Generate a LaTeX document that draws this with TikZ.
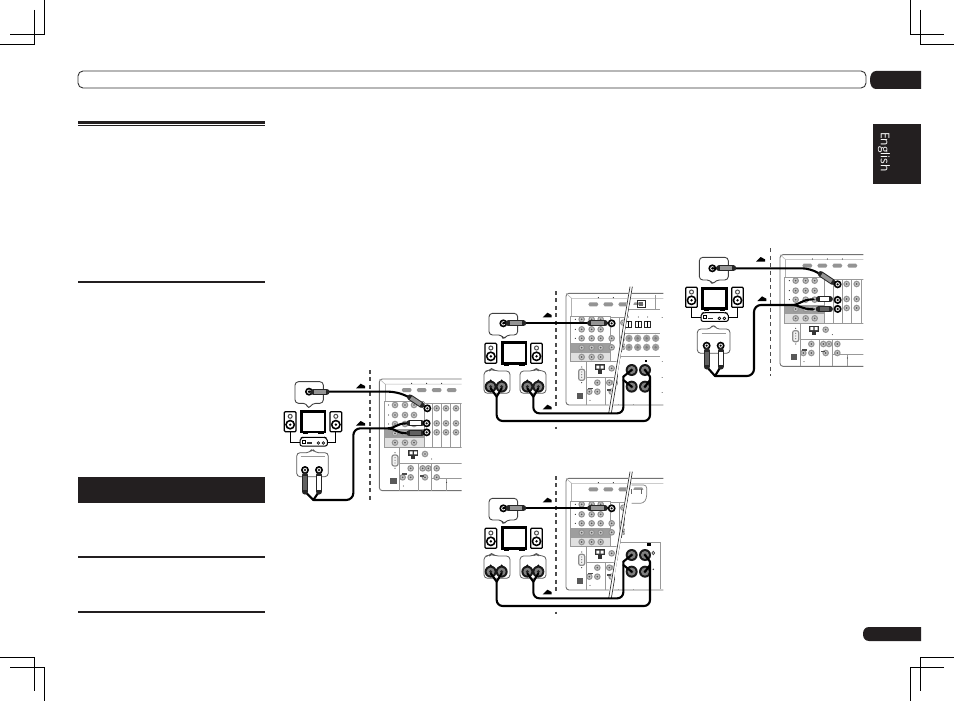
\documentclass[tikz,border=0pt]{standalone}
\usepackage{fontspec}
\setmainfont{Open Sans}
\usetikzlibrary{calc}
\definecolor{ink}{RGB}{35,31,32}
\tikzset{
  crop/.style={black,line width=0.8pt},
  rule/.style={ink,line width=1.1pt},
  cable/.style={black,line width=2.1pt,rounded corners=5pt,line cap=round},
  wire/.style={black,line width=0.8pt},
  bubble/.style={draw=black!75,line width=0.9pt,fill=white,rounded corners=3.5pt,line join=round},
  bubbleB/.style={draw=black!65,line width=0.8pt,fill=white,rounded corners=3.5pt,line join=round},
  pline/.style={black!40,line width=0.6pt},
  pouter/.style={black!55,line width=0.9pt,rounded corners=3pt},
  vdash/.style={black!70,line width=1.5pt,dash pattern=on 4pt off 3.4pt},
  dzone/.style={x=0.33333pt,y=-0.33333pt},
}
\newcommand{\pjack}[1]{\fill[black!42] (#1) circle (10); \fill[black!22] (#1) circle (6); \fill[black!65] (#1) circle (2.8);}
\newcommand{\gjack}[1]{\fill[black!38] (#1) circle (11); \fill[black!52] (#1) circle (4);}
\newcommand{\djack}[1]{\fill[black] (#1) circle (12); \fill[black!10] (#1) circle (6.5); \fill[black] (#1) circle (3.4);}
\newcommand{\bjack}[1]{\fill[black!90] (#1) circle (18); \fill[black!50] (#1) circle (12); \fill[black!85] (#1) circle (5);}
\newcommand{\plugseg}[3]{%
  \draw[black!85,line width=5.8pt,line cap=round] (#1)--(#2);
  \draw[#3,line width=3.8pt,line cap=butt] ($(#1)!.08!(#2)$)--($(#1)!.92!(#2)$);}
\newcommand{\amark}[1]{\fill[black] ($(#1)$) -- ++(14,-14) -- ++(13,7) -- ++(0,7) -- cycle;}
\newcommand{\spk}[1]{%
  \begin{scope}[shift={(#1)}]
  \draw[black,line width=1.2pt,fill=white,rounded corners=1pt] (0,0) rectangle (35,60);
  \draw[black!70,line width=1pt] (17.5,14) circle (6);
  \fill[black] (17.5,39) circle (15); \fill[white] (17.5,39) circle (9.5); \fill[black] (17.5,39) circle (4);
  \end{scope}}
\newcommand{\tvset}[4]{%
  \draw[black,line width=2.5pt,fill=white] (#1,#2) rectangle (#3,#4);
  \draw[black,line width=2.6pt] ($(#1,#4)+(4,3)$) -- ++(16,0);
  \draw[black,line width=2.6pt] ($(#3,#4)+(-20,3)$) -- ++(16,0);}
\newcommand{\ampbox}[1]{%
  \begin{scope}[shift={(#1)}]
  \draw[black,line width=1pt,fill=white,rounded corners=2pt] (0,3) -- (8,0) -- (74,0) -- (82,3) -- (82,26) -- (0,26) -- cycle;
  \draw[black,line width=0.9pt] (7,9) rectangle (16,17);
  \fill[black!80] (20,15) rectangle (36,19);
  \draw[black,line width=0.7pt] (55,17) circle (4) (70,17) circle (4);
  \end{scope}}
\newcommand{\panelbase}{%
  \draw[pouter] (620,57) -- (328,57) -- (328,392) -- (620,392);
  \draw[black!30,line width=0.5pt] (328,57) -- (345,72) -- (620,72);
  \draw[black!30,line width=0.5pt] (345,72) -- (345,125);
  \foreach \xx in {395,440,485,530}{\fill[black!42] (\xx,90) -- ++(4,-6) -- ++(22,0) -- ++(4,6) -- ++(-4,6) -- ++(-22,0) -- cycle;}
  \foreach \xx in {425,470,515}{\fill[black] (\xx,70) circle (1.6);}
  \foreach \yy in {135,165,192}{\fill[black] (356,\yy) circle (1.6);}
  \fill[black!38] (342,207) rectangle (462,235);
  \fill[black!12] (342,235) rectangle (462,262);
  \draw[pline] (342,125) -- (342,262) -- (620,262);
  \draw[pline] (342,125) -- (462,125);
  \draw[pline] (462,125) -- (462,262);
  \draw[pline] (462,130) -- (620,130);
  \foreach \xx in {487,515,542,572}{\draw[pline] (\xx,130) -- (\xx,262);}
  \foreach \xx in {375,405,432}{\foreach \yy in {135,165,192,220,248}{\pjack{\xx,\yy}}}
  \foreach \xx in {500,528,558}{\foreach \yy in {145,190,217}{\pjack{\xx,\yy}}}
  \draw[pline] (388,262) -- (388,392);
  \draw[pline] (388,310) -- (620,310);
  \draw[pline] (445,310) -- (445,392);
  \draw[pline] (485,310) -- (485,392);
  \draw[pline] (530,355) -- (530,392) (485,355) -- (620,355);
  % serial connector
  \draw[black!45,line width=1.2pt,fill=black!6,rounded corners=2pt] (366,285) rectangle (384,318);
  \foreach \yy in {293,301,309}{\fill[black!50] (375,\yy) circle (2);}
  \fill[black!70] (375,278) circle (1.8) (375,325) circle (1.8);
  % speaker-type block
  \fill[black!80] (415,270) rectangle (445,288);
  \fill[white] (419,274) rectangle (428,283) (432,274) rectangle (441,283);
  \fill[black!80] (424,288) rectangle (436,298);
  \pjack{465,282}
  \fill[black] (485,297) circle (1.4);
  \foreach \xx/\yy in {422/325,398/352,422/352,458/325,475/325,500/325,465/352,500/352}{\pjack{\xx,\yy}}
  \fill[black!70] (395,340) rectangle (410,345);
  \fill[black!70] (450,345) rectangle (462,350);
  \fill[black!65] (360,355) rectangle (380,373);
  \fill[black] (400,378) circle (1.3) (530,367) circle (1.3);
}
\newcommand{\panelcut}{%
  \fill[white] (463,5) -- (474,5) -- (411,385) -- (398,385) -- cycle;
  \draw[black!80,line width=0.7pt] (465,5) -- (401,385);
  \draw[black!80,line width=0.7pt] (472,5) -- (409,385);
}
\newcommand{\speakerset}{%
  \coordinate (hdTV) at (85,115);
  \draw[bubble] (42,85) -- (128,85) -- (128,150) -- (95,150) -- (85,165) -- (82,150) -- (42,150) -- cycle;
  \djack{hdTV}
  \spk{30,175}
  \tvset{83}{172}{153}{236}
  \spk{167,175}
  \draw[bubbleB] (27,258) -- (43,258) -- (50,250) -- (60,258) -- (105,258) -- (105,325) -- (27,325) -- cycle;
  \draw[bubbleB] (135,258) -- (175,258) -- (184,250) -- (192,258) -- (213,258) -- (213,325) -- (135,325) -- cycle;
  \foreach \xx in {47,80,157,190}{\fill[black] (\xx,283) -- ++(-4,5) -- ++(8,0) -- cycle;}
  \foreach \xx in {47,80,157,190}{\bjack{\xx,305}}
  \foreach \xx/\yy in {470/255,510/255,470/305,510/305}{\bjack{\xx,\yy}}
  \coordinate (ya) at (65,335);
  \coordinate (yb) at (175,335);
  \coordinate (ja) at (510,255);
  \coordinate (jb) at (510,305);
  \coordinate (jc) at (470,255);
  \coordinate (jd) at (470,305);
  \draw[cable] (47,310) -- (ya) (80,310) -- (ya);
  \draw[cable] (157,310) -- (yb) (190,310) -- (yb);
  \draw[cable,rounded corners=6pt] (ya) -- (65,408) -- (525,408) -- (525,275);
  \draw[cable] (525,275) -- (ja) (525,285) -- (jb);
  \draw[cable,rounded corners=6pt] (yb) -- (175,385) -- (445,385) -- (445,275);
  \draw[cable] (445,275) -- (jc) (445,285) -- (jd);
  \draw[cable] (hdTV) -- (410,115);
  \plugseg{100,115}{145,115}{black!42}
  \plugseg{345,115}{390,115}{black!42}
  \djack{410,115}
  \amark{203,97}
  \amark{203,373}
}
\begin{document}
\begin{tikzpicture}[x=1pt,y=-1pt]
\useasboundingbox (0,0) rectangle (954,701);
\fill[white] (0,0) rectangle (954,701);
% crop marks
\draw[crop] (44.3,0) -- (44.3,34) -- (10,34);
\draw[crop] (34.3,10) -- (34.3,44) -- (0,44);
\draw[crop] (910,0) -- (910,34) -- (944,34);
\draw[crop] (920,10) -- (920,44) -- (954,44);
\draw[crop] (0,657) -- (34.3,657) -- (34.3,691);
\draw[crop] (10,667) -- (44.3,667) -- (44.3,701);
\draw[crop] (954,657) -- (920.3,657) -- (920.3,691);
\draw[crop] (944,667) -- (910,667) -- (910,701);
% page furniture
\draw[black!80,line width=0.9pt,rounded corners=5pt] (78,71) rectangle (866,88);
\fill[ink] (921,71) -- (921,89) -- (876,89) arc (90:270:-0.0pt) .. controls (872,89) and (870,85) .. (870,80) .. controls (870,75) and (872,71) .. (876,71) -- cycle;
\fill[ink] (873,124) rectangle (921,184);
\node[rotate=-90,text=white,font=\fontsize{12}{14}\selectfont,inner sep=0pt] (lang) at (884,152) {English};
\fill[ink] (921,627) -- (921,641) -- (869,641) .. controls (865,641) and (863,638) .. (863,634) .. controls (863,630) and (865,627) .. (869,627) -- cycle;
\fill[ink] (78,121) rectangle (265,124.3);
\draw[ink,line width=0.8pt] (78,125.6) -- (265,125.6);
\draw[rule] (78,282) -- (265,282);
\fill[ink] (77.5,477) rectangle (264.5,503);
\draw[rule] (78,557) -- (265,557);
\draw[rule] (78,612) -- (265,612);

% ---- diagram 1
\begin{scope}[shift={(270,360)},dzone]
  \begin{scope}\clip (300,40) rectangle (575,400); \panelbase \end{scope}
  \draw[vdash] (300,30) -- (300,425);
  \draw[bubble] (75,65) -- (160,65) -- (160,130) -- (127,130) -- (115,148) -- (110,130) -- (75,130) -- cycle;
  \coordinate (d1a) at (117,95);
  \coordinate (d1b) at (472,145);
  \coordinate (d1c) at (470,190);
  \coordinate (d1d) at (470,217);
  \coordinate (d1y) at (130,420);
  \coordinate (d1s) at (355,205);
  \djack{d1a}
  \spk{43,155}
  \tvset{95}{155}{165}{216}
  \spk{180,155}
  \draw[wire] (60,215) -- (60,247) -- (90,247) (197,215) -- (197,247) -- (172,247);
  \ampbox{90,232}
  \draw[bubbleB] (80,278) -- (120,278) -- (127,265) -- (135,278) -- (175,278) -- (175,350) -- (80,350) -- cycle;
  \draw[black!40,line width=0.5pt] (92,290) -- (165,290);
  \djack{105,330} \djack{147,330}
  \draw[cable,rounded corners=8pt] (d1a) -- (380,95) -- (425,115);
  \plugseg{130,95}{170,95}{black!42}
  \plugseg{420,112}{455,135}{black!42}
  \djack{d1b}
  \draw[cable] (105,395) -- (d1y) (147,395) -- (d1y);
  \draw[cable,rounded corners=7pt] (d1y) -- (250,420) -- (250,205) -- (d1s);
  \draw[cable] (d1s) .. controls (375,205) and (380,190) .. (410,190);
  \draw[cable] (d1s) .. controls (375,205) and (380,220) .. (410,220);
  \plugseg{105,345}{105,395}{black!62}
  \plugseg{147,345}{147,395}{white}
  \plugseg{418,190}{455,190}{white}
  \plugseg{418,220}{455,220}{black!62}
  \djack{d1c} \djack{d1d}
  \amark{258,85}
  \amark{258,197}
\end{scope}

% ---- diagram 2
\begin{scope}[shift={(475,285)},dzone]
  \begin{scope}[shift={(-55,-32)}]\clip (300,40) rectangle (620,392); \panelbase \end{scope}
  \panelcut
  \begin{scope}
    \clip (474,5) -- (560,5) -- (560,362) -- (411,362) -- cycle;
    \fill[white] (450,60) rectangle (560,250);
    \fill[white] (430,200) rectangle (560,356);
    \draw[pline] (430,72) -- (555,72) (430,145) -- (555,145) (430,215) -- (555,215);
    \draw[pline] (540,30) -- (540,72);
    \draw[black!85,line width=1pt] (487,47) rectangle (510,68);
    \fill[black!60] (493,52) rectangle (504,62);
    \foreach \xx in {460,490,518}{\draw[black!85,line width=1.6pt] (\xx-9,109) rectangle (\xx+9,127); \draw[black,line width=1.2pt] (\xx,109) -- (\xx,127); \fill[black] (\xx,96) circle (1.4);}
    \foreach \xx in {462,488,515,542}{\gjack{\xx,160}\gjack{\xx,187}}
    \fill[black] (510,226) rectangle (516,232);
  \end{scope}
  \pjack{410,160}\pjack{410,187}
  \draw[vdash] (243,18) -- (243,368);
  \draw[black!70,line width=1.5pt] (243,425) -- (243,431);
  \speakerset
\end{scope}

% ---- diagram 3
\begin{scope}[shift={(475,470)},dzone]
  \begin{scope}[shift={(-55,-32)}]\clip (300,40) rectangle (620,392); \panelbase \end{scope}
  \panelcut
  \begin{scope}
    \clip (474,5) -- (570,5) -- (570,362) -- (411,362) -- cycle;
    \fill[white] (450,60) rectangle (570,250);
    \fill[white] (420,205) rectangle (570,356);
    \draw[black!50,line width=0.7pt,rounded corners=3pt] (470,45) -- (515,45) -- (515,85) -- (505,100) -- (470,100);
    \draw[black!60,line width=1.2pt] (470,58) -- (470,72) (500,58) -- (500,72);
    \draw[pline] (420,218) -- (555,218) -- (555,358);
    \fill[black] (517,219) rectangle (527,227);
    \draw[black!70,line width=0.8pt] (535,244) -- (539,249) -- (535,254) -- (531,249) -- cycle;
    \fill[black!80] (535,298) circle (2.4);
  \end{scope}
  \pjack{410,160}\pjack{410,187}
  \draw[vdash] (243,18) -- (243,368);
  \draw[black!70,line width=1.5pt] (243,425) -- (243,431);
  \speakerset
\end{scope}

% ---- diagram 4
\begin{scope}[shift={(680,240)},dzone]
  \begin{scope}[shift={(-28,-13)}]\clip (300,40) rectangle (578,396); \panelbase \end{scope}
  \draw[vdash] (272,25) -- (272,408);
  \draw[bubble] (58,52) -- (145,52) -- (145,120) -- (108,120) -- (97,135) -- (92,120) -- (58,120) -- cycle;
  \coordinate (d4a) at (97,85);
  \coordinate (d4b) at (473,133);
  \coordinate (d4c) at (473,180);
  \coordinate (d4d) at (473,207);
  \coordinate (d4y) at (105,408);
  \coordinate (d4s) at (335,195);
  \djack{d4a}
  \spk{17,142}
  \tvset{67}{145}{140}{205}
  \spk{155,142}
  \draw[wire] (35,205) -- (35,233) -- (62,233) (172,205) -- (172,233) -- (147,233);
  \ampbox{63,218}
  \draw[bubbleB] (52,267) -- (92,267) -- (100,252) -- (108,267) -- (150,267) -- (150,340) -- (52,340) -- cycle;
  \draw[black!40,line width=0.5pt] (65,280) -- (138,280);
  \djack{80,317} \djack{122,317}
  \draw[cable,rounded corners=8pt] (d4a) -- (390,85) -- (425,105);
  \plugseg{117,85}{160,85}{black!42}
  \plugseg{422,102}{458,126}{black!42}
  \djack{d4b}
  \draw[cable] (80,380) -- (d4y) (122,380) -- (d4y);
  \draw[cable,rounded corners=7pt] (d4y) -- (222,408) -- (222,195) -- (d4s);
  \draw[cable] (d4s) .. controls (360,195) and (365,178) .. (400,178);
  \draw[cable] (d4s) .. controls (360,195) and (365,208) .. (400,208);
  \plugseg{80,332}{80,380}{black!62}
  \plugseg{122,332}{122,380}{white}
  \plugseg{416,178}{450,178}{white}
  \plugseg{416,208}{450,208}{black!62}
  \djack{d4c} \djack{d4d}
  \amark{228,65}
  \amark{232,183}
\end{scope}
\end{tikzpicture}
\end{document}
